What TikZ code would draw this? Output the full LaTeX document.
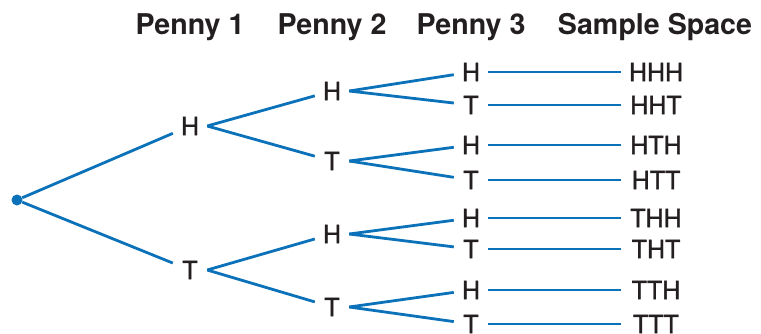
\documentclass[tikz,border=0pt]{standalone}
\usepackage{fontspec}
\setmainfont{TeX Gyre Heros}
\newfontfamily\medfont[FakeBold=1.4]{TeX Gyre Heros}
\definecolor{ink}{HTML}{231F20}
\definecolor{treeblue}{HTML}{0B72B9}
\begin{document}
\begin{tikzpicture}[x=1pt,y=-1pt,
  branch/.style={draw=treeblue,line width=2.8pt},
  lett/.style={inner sep=0pt,minimum width=34pt,minimum height=20pt,text=ink,font=\medfont\fontsize{25}{25}\selectfont},
  outcome/.style={inner sep=0pt,minimum width=70pt,minimum height=20pt,text=ink,font=\medfont\fontsize{25}{25}\selectfont},
  header/.style={anchor=base,inner sep=0pt,text=ink,font=\fontsize{28.6}{28.6}\selectfont\bfseries}]
\useasboundingbox (0,0) rectangle (761,333);
% headers
\node[header] (h1) at (190,34.5) {Penny 1};
\node[header] (h2) at (332,34.5) {Penny 2};
\node[header] (h3) at (471,34.5) {Penny 3};
\node[header] (h4) at (655,34.5) {Sample Space};
% root
\node[circle,fill=treeblue,inner sep=0pt,minimum size=11pt] (r) at (17,200) {};
% penny 1
\node[lett] (a1) at (190,126) {H};
\node[lett] (a2) at (190,270) {T};
% penny 2
\node[lett] (b1) at (332,91) {H};
\node[lett] (b2) at (332,161) {T};
\node[lett] (b3) at (332,234) {H};
\node[lett] (b4) at (332,307) {T};
% penny 3
\node[lett] (c1) at (471,72) {H};
\node[lett] (c2) at (471,105) {T};
\node[lett] (c3) at (471,145) {H};
\node[lett] (c4) at (471,180) {T};
\node[lett] (c5) at (471,218) {H};
\node[lett] (c6) at (471,249) {T};
\node[lett] (c7) at (471,290) {H};
\node[lett] (c8) at (471,324) {T};
% outcomes
\node[outcome] (s1) at (656,72) {HHH};
\node[outcome] (s2) at (656,105) {HHT};
\node[outcome] (s3) at (656,145) {HTH};
\node[outcome] (s4) at (656,180) {HTT};
\node[outcome] (s5) at (656,218) {THH};
\node[outcome] (s6) at (656,249) {THT};
\node[outcome] (s7) at (656,290) {TTH};
\node[outcome] (s8) at (656,324) {TTT};
% branches
\draw[branch] (r) -- (a1);
\draw[branch] (r) -- (a2);
\draw[branch] (a1.east) -- (b1);
\draw[branch] (a1.east) -- (b2);
\draw[branch] (a2.east) -- (b3);
\draw[branch] (a2.east) -- (b4);
\draw[branch] (b1.east) -- (c1);
\draw[branch] (b1.east) -- (c2);
\draw[branch] (b2.east) -- (c3);
\draw[branch] (b2.east) -- (c4);
\draw[branch] (b3.east) -- (c5);
\draw[branch] (b3.east) -- (c6);
\draw[branch] (b4.east) -- (c7);
\draw[branch] (b4.east) -- (c8);
\foreach \i in {1,...,8} {\draw[branch] (c\i.east) -- (s\i.west);}
\end{tikzpicture}
\end{document}
